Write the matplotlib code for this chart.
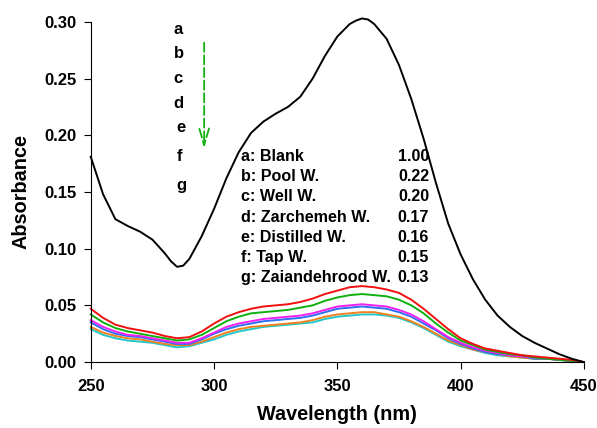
import numpy as np
import matplotlib.pyplot as plt

plt.rcParams['font.family'] = ['Liberation Sans', 'DejaVu Sans']
plt.rcParams['font.weight'] = 'bold'

# blank spectrum
wl_blank = [250, 255, 260, 265, 270, 275, 280, 282.5, 285, 287.5, 290, 295,
            300, 305, 310, 315, 320, 325, 330, 335, 340, 345, 350, 355, 357.5,
            360, 362.5, 365, 370, 375, 380, 385, 390, 395, 400, 405, 410, 415,
            420, 425, 430, 435, 440, 445, 450]
blank = [0.181, 0.148, 0.126, 0.120, 0.115, 0.108, 0.096, 0.089, 0.084, 0.085, 0.091, 0.111,
         0.135, 0.162, 0.185, 0.202, 0.212, 0.219, 0.225, 0.234, 0.250, 0.270,
         0.287, 0.298, 0.301, 0.303, 0.302, 0.298, 0.285, 0.262, 0.232, 0.197,
         0.158, 0.122, 0.095, 0.073, 0.055, 0.041, 0.031, 0.023, 0.017, 0.012,
         0.007, 0.003, 0.000]

# water samples, 5 nm steps
wl = np.arange(250, 451, 5)
red = [0.047, 0.039, 0.033, 0.030, 0.028, 0.026, 0.023, 0.021, 0.022, 0.027, 0.034,
       0.040, 0.044, 0.047, 0.049, 0.050, 0.051, 0.053, 0.056, 0.060, 0.063, 0.066,
       0.067, 0.066, 0.064, 0.061, 0.055, 0.047, 0.038, 0.029, 0.021, 0.016, 0.012,
       0.010, 0.008, 0.006, 0.005, 0.004, 0.003, 0.002, 0.000]
green = [0.042, 0.035, 0.030, 0.027, 0.025, 0.023, 0.021, 0.019, 0.020, 0.024, 0.030,
         0.036, 0.040, 0.043, 0.044, 0.045, 0.046, 0.048, 0.050, 0.054, 0.057, 0.059,
         0.060, 0.059, 0.058, 0.055, 0.050, 0.043, 0.034, 0.026, 0.019, 0.015, 0.011,
         0.009, 0.007, 0.006, 0.004, 0.003, 0.002, 0.001, 0.000]
magenta = [0.037, 0.031, 0.027, 0.024, 0.023, 0.021, 0.019, 0.017, 0.017, 0.021, 0.026,
           0.031, 0.034, 0.036, 0.038, 0.039, 0.040, 0.041, 0.043, 0.046, 0.049, 0.050,
           0.051, 0.050, 0.049, 0.046, 0.042, 0.036, 0.029, 0.022, 0.017, 0.013, 0.010,
           0.008, 0.006, 0.005, 0.004, 0.003, 0.002, 0.001, 0.000]
blue = [0.035, 0.029, 0.025, 0.023, 0.022, 0.020, 0.018, 0.016, 0.016, 0.020, 0.025,
        0.029, 0.032, 0.034, 0.036, 0.037, 0.038, 0.039, 0.041, 0.044, 0.047, 0.048,
        0.049, 0.048, 0.047, 0.044, 0.040, 0.034, 0.028, 0.021, 0.016, 0.012, 0.009,
        0.007, 0.006, 0.005, 0.003, 0.003, 0.002, 0.001, 0.000]
orange = [0.031, 0.026, 0.023, 0.021, 0.020, 0.018, 0.016, 0.015, 0.015, 0.018, 0.022,
          0.026, 0.029, 0.031, 0.032, 0.033, 0.034, 0.035, 0.037, 0.040, 0.042, 0.043,
          0.044, 0.044, 0.042, 0.040, 0.036, 0.031, 0.025, 0.019, 0.015, 0.011, 0.009,
          0.007, 0.005, 0.004, 0.003, 0.003, 0.002, 0.001, 0.000]
cyan = [0.029, 0.024, 0.021, 0.019, 0.018, 0.017, 0.015, 0.013, 0.014, 0.017, 0.020,
        0.024, 0.027, 0.029, 0.031, 0.032, 0.033, 0.034, 0.035, 0.038, 0.040, 0.041,
        0.042, 0.042, 0.041, 0.039, 0.035, 0.030, 0.024, 0.018, 0.014, 0.011, 0.008,
        0.006, 0.005, 0.004, 0.003, 0.003, 0.002, 0.001, 0.000]

letters = ['a', 'b', 'c', 'd', 'e', 'f', 'g']
names = ['a: Blank', 'b: Pool W.', 'c: Well W.', 'd: Zarchemeh W.', 'e: Distilled W.',
         'f: Tap W.', 'g: Zaiandehrood W.']
ratios = ['1.00', '0.22', '0.20', '0.17', '0.16', '0.15', '0.13']

fig = plt.figure(figsize=(5.97, 4.28), dpi=100)
ax = fig.add_axes([0.152, 0.154, 0.826, 0.795])

kw = dict(lw=1.4, solid_joinstyle='round', clip_on=False)
ax.plot(wl, cyan, color='#22c8c8', **kw)
ax.plot(wl, orange, color='#f08020', **kw)
ax.plot(wl, blue, color='#2f6ff0', **kw)
ax.plot(wl, magenta, color='#f020f0', **kw)
ax.plot(wl, green, color='#10b010', **kw)
ax.plot(wl, red, color='#f01010', **kw)
ax.plot(wl_blank, blank, color='black', **kw)

ax.set_xlim(250, 450)
ax.set_ylim(0, 0.30)
ax.set_xticks([250, 300, 350, 400, 450])
ax.set_yticks(np.arange(0, 0.31, 0.05))
ax.yaxis.set_major_formatter(plt.FormatStrFormatter('%.2f'))
ax.spines['top'].set_visible(False)
ax.spines['right'].set_visible(False)
ax.tick_params(direction='out', length=5, labelsize=12, pad=5)
ax.tick_params(axis='x', pad=7)
ax.set_xlabel('Wavelength (nm)', fontsize=14.3, fontweight='bold', labelpad=8)
ax.set_ylabel('Absorbance', fontsize=14.3, fontweight='bold', labelpad=10)

letter_y = [0.293, 0.272, 0.250, 0.228, 0.2065, 0.181, 0.156]
letter_x = [283.7, 283.7, 283.7, 283.7, 284.8, 284.8, 284.8]
for lx, ly, s in zip(letter_x, letter_y, letters):
    ax.text(lx, ly, s, fontsize=12, fontweight='bold', ha='left', va='center')

ax.annotate('', xy=(296, 0.186), xytext=(296, 0.284),
            arrowprops=dict(arrowstyle='->, head_length=1.2, head_width=0.35',
                            color='#10b010', lw=1.3, ls=(0, (5, 2))))

for i, (n, r) in enumerate(zip(names, ratios)):
    yy = 0.181 - i * 0.0177
    ax.text(311, yy, n, fontsize=11.6, fontweight='bold', ha='left', va='center')
    ax.text(387.2, yy, r, fontsize=11.6, fontweight='bold', ha='right', va='center')

fig.savefig('out.png', dpi=100)
